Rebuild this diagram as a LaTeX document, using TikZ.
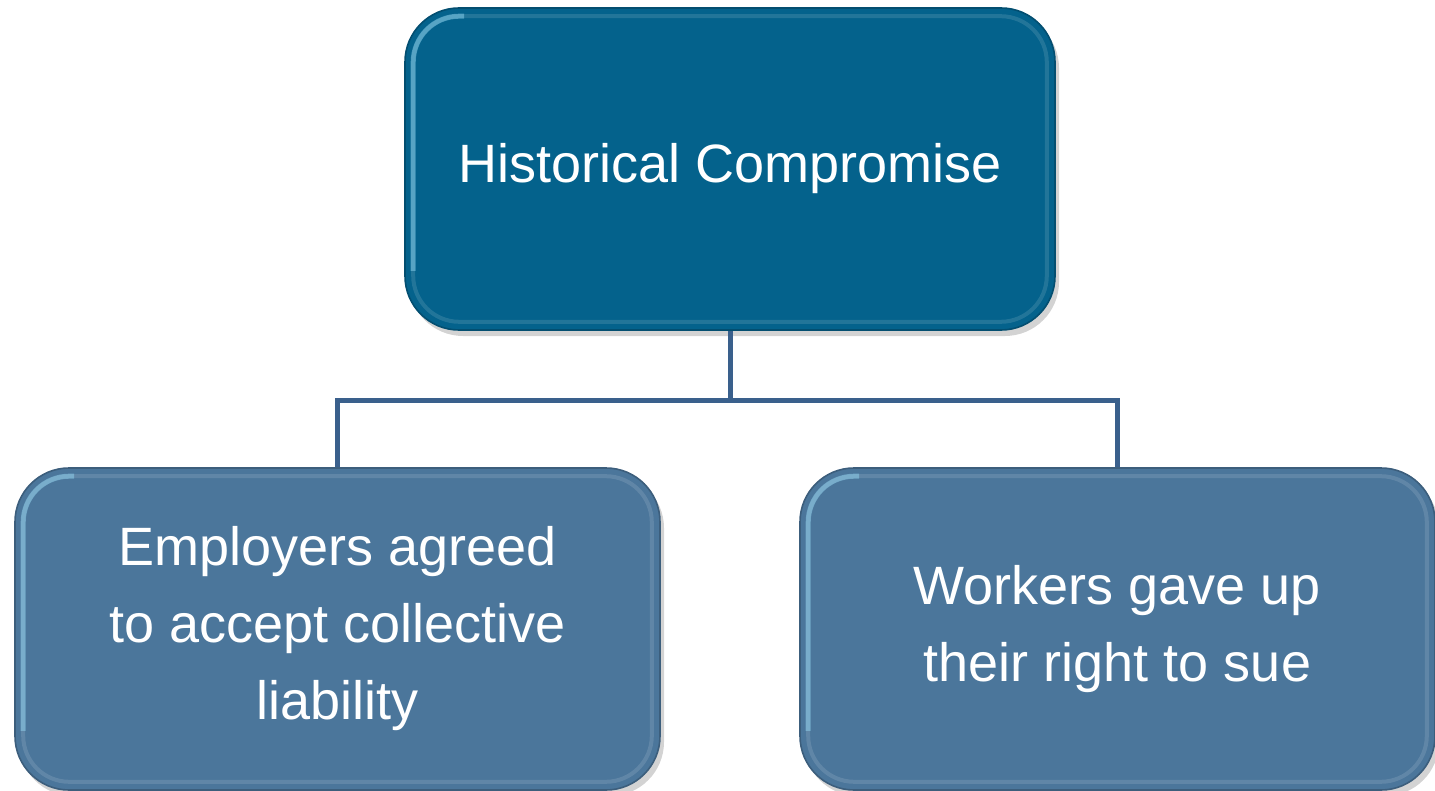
\documentclass[tikz,border=0pt]{standalone}
\usepackage{fontspec}
\setmainfont{Liberation Sans}
\usetikzlibrary{shadows,calc}
\definecolor{topblue}{RGB}{4,98,140}
\definecolor{botblue}{RGB}{75,118,155}
\definecolor{linkblue}{RGB}{58,96,140}
\tikzset{
  box/.style={rectangle, rounded corners=27pt, inner sep=0pt, text=white, align=center,
    font=\fontsize{27}{38.5}\selectfont,
    drop shadow={shadow xshift=2pt, shadow yshift=-3pt, opacity=0.35}},
  topbox/.style={box, fill=topblue, draw=topblue!80!black, line width=0.8pt,
    minimum width=325pt, minimum height=161pt},
  botbox/.style={box, fill=botblue, draw=botblue!80!black, line width=0.8pt,
    minimum height=161pt},
  glow/.style={draw=white, opacity=0.12, line width=2pt, rounded corners=23pt},
  edgeglow/.style={draw=cyan!40!white, opacity=0.45, line width=2.5pt, rounded corners=23pt},
  link/.style={draw=linkblue, line width=2.5pt}
}
\begin{document}
\begin{tikzpicture}[x=0.5pt, y=-0.5pt]
\useasboundingbox (0,0) rectangle (1435,791);
\node[topbox] (top) at (730,169) {\raisebox{-3pt}{Historical Compromise}};
\node[botbox, minimum width=322.5pt] (left) at (337.5,629) {Employers agreed\\to accept collective\\liability};
\node[botbox, minimum width=317.5pt] (right) at (1117.5,629) {Workers gave up\\their right to sue};
\foreach \n in {top,left,right}{
  \draw[glow] ($(\n.north west)+(9,9)$) rectangle ($(\n.south east)+(-9,-9)$);
  \draw[edgeglow] ($(\n.north west)+(60,9)$) -- ($(\n.north west)+(9,9)$) -- ($(\n.south west)+(9,-60)$);
}
\coordinate (junc) at ($(top.south)+(0,70)$);
\draw[link] (top.south) -- (junc);
\draw[link] (junc) -| (left.north);
\draw[link] (junc) -| (right.north);
\end{tikzpicture}
\end{document}
